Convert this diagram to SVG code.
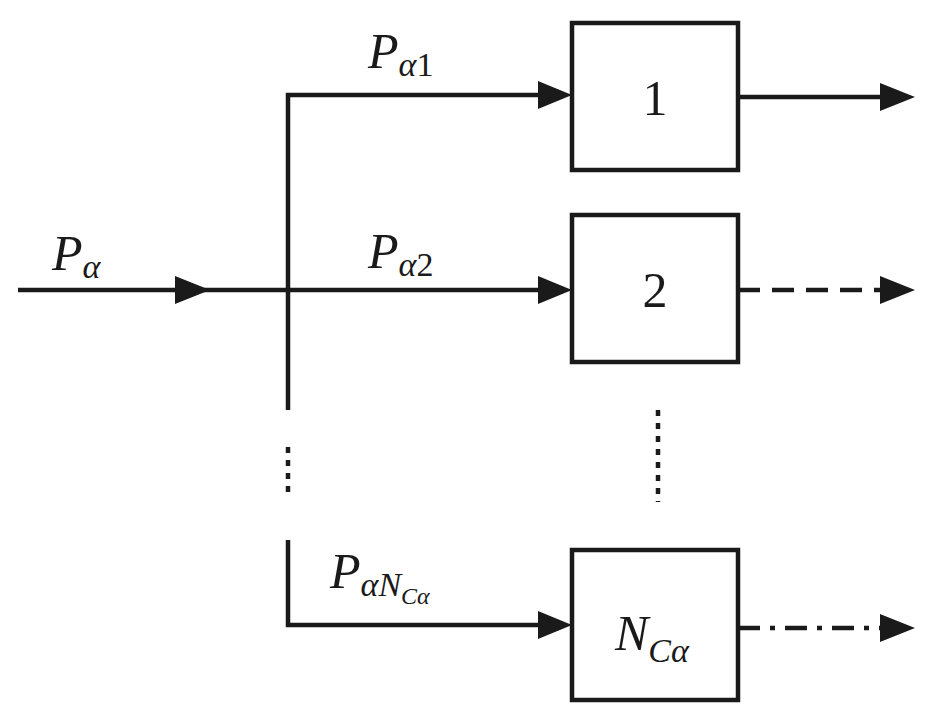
<svg xmlns="http://www.w3.org/2000/svg" width="935" height="721" viewBox="0 0 935 721">
<style>
.l{stroke:#1a1a1a;stroke-width:4.5;fill:none}
.b{stroke:#1a1a1a;stroke-width:4.5;fill:#fff}
text{font-family:"Liberation Serif",serif;fill:#1a1a1a}
.m{font-style:italic;font-size:50px}
.s{font-style:italic;font-size:34px}
.u{font-style:normal;font-size:34px}
.n{font-size:50px}
</style>
<g id="connectors">
<path class="l" d="M18,290H200"/>
<path d="M175,276L210,290L175,304Z" fill="#1a1a1a"/>
<path class="l" d="M200,290H288"/>
<path class="l" d="M288,410V95H545"/><path d="M538,81L572,95L538,109Z" fill="#1a1a1a"/>
<path class="l" d="M288,290H545"/><path d="M538,276L572,290L538,304Z" fill="#1a1a1a"/>
<path class="l" d="M288,447V497" stroke-dasharray="6,7"/>
<path class="l" d="M288,540V625H545"/><path d="M538,611L572,625L538,639Z" fill="#1a1a1a"/>
<path class="l" d="M658,410V502" stroke-dasharray="6,7"/>
<path class="l" d="M738,97H885"/><path d="M880,83L915,97L880,111Z" fill="#1a1a1a"/>
<path class="l" d="M738,290H885" stroke-dasharray="22,12"/><path d="M880,276L915,290L880,304Z" fill="#1a1a1a"/>
<path class="l" d="M738,628H885" stroke-dasharray="22,10,5,10"/><path d="M880,614L915,628L880,642Z" fill="#1a1a1a"/>
</g>
<g id="n1"><rect class="b" x="572" y="23" width="166" height="147"/><text class="n" x="655" y="115" text-anchor="middle">1</text></g>
<g id="n2"><rect class="b" x="572" y="215" width="166" height="147"/><text class="n" x="655" y="307" text-anchor="middle">2</text></g>
<g id="n3"><rect class="b" x="572" y="550" width="166" height="150"/><text x="615" y="650"><tspan class="m">N</tspan><tspan class="s" dy="12">Cα</tspan></text></g>
<g id="labels">
<text x="52" y="270"><tspan class="m">P</tspan><tspan class="s" dy="8">α</tspan></text>
<text x="368" y="68"><tspan class="m">P</tspan><tspan class="s" dy="8">α</tspan><tspan class="u">1</tspan></text>
<text x="368" y="268"><tspan class="m">P</tspan><tspan class="s" dy="8">α</tspan><tspan class="u">2</tspan></text>
<text x="330" y="588"><tspan class="m">P</tspan><tspan class="s" dy="8">αN</tspan><tspan style="font-style:italic;font-size:24px" dy="8">Cα</tspan></text>
</g>
</svg>
